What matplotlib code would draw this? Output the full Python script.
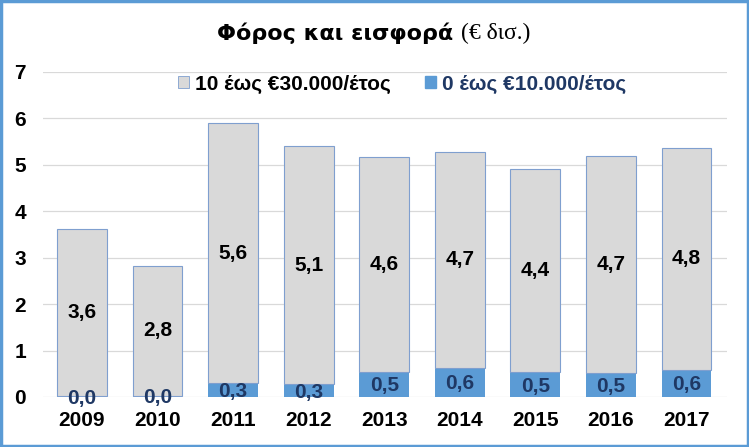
import matplotlib
matplotlib.use('Agg')
import matplotlib.pyplot as plt
from matplotlib.patches import Rectangle, Patch
import numpy as np

# data (€ bn)
years = ['2009', '2010', '2011', '2012', '2013', '2014', '2015', '2016', '2017']
low_band = [0.01, 0.03, 0.30, 0.27, 0.54, 0.62, 0.53, 0.52, 0.58]     # 0 έως €10.000/έτος
mid_band = [3.60, 2.79, 5.60, 5.13, 4.63, 4.66, 4.38, 4.67, 4.79]     # 10 έως €30.000/έτος
y_ticks = [0, 1, 2, 3, 4, 5, 6, 7]

GREY = '#D9D9D9'
GREY_EDGE = '#7F9FCF'
BLUE = '#5B9BD5'
NAVY = '#1F3864'
SANS = ['Liberation Sans', 'DejaVu Sans']


def fmt(v):
    return f'{v:.1f}'.replace('.', ',')


def main():
    fig = plt.figure(figsize=(7.49, 4.47), dpi=100)
    ax = fig.add_axes([0.057, 0.112, 0.914, 0.727])

    x = np.arange(len(years))
    ax.bar(x, low_band, width=0.66, color=BLUE, zorder=2)
    ax.bar(x, mid_band, width=0.66, bottom=low_band, color=GREY,
           edgecolor=GREY_EDGE, linewidth=0.8, zorder=2)

    # value labels
    for i in range(len(years)):
        ax.text(x[i], low_band[i] + mid_band[i] / 2, fmt(mid_band[i]),
                ha='center', va='center', fontsize=15, fontweight='bold',
                family=SANS, color='black', zorder=3)
        ax.text(x[i], low_band[i] / 2 - 0.03, fmt(low_band[i]),
                ha='center', va='center', fontsize=15, fontweight='bold',
                family=SANS, color=NAVY, zorder=3)

    ax.set_xlim(-0.52, len(years) - 0.46)
    ax.set_ylim(0, 7)
    ax.set_yticks(y_ticks)
    ax.set_xticks(x)
    ax.set_xticklabels(years)
    for lab in ax.get_xticklabels() + ax.get_yticklabels():
        lab.set_fontsize(15)
        lab.set_fontweight('bold')
        lab.set_family(SANS)
    ax.tick_params(axis='both', length=0)
    ax.tick_params(axis='y', pad=12)
    ax.tick_params(axis='x', pad=10)
    ax.grid(axis='y', color='#D9D9D9', linewidth=0.9, zorder=0)
    for s in ax.spines.values():
        s.set_visible(False)

    handles = [Patch(facecolor=GREY, edgecolor=GREY_EDGE, linewidth=0.6),
               Patch(facecolor=BLUE, edgecolor=BLUE)]
    leg = ax.legend(handles, ['10 έως €30.000/έτος', '0 έως €10.000/έτος'],
                    loc='center', bbox_to_anchor=(0.525, 0.963), ncol=2,
                    frameon=False, handlelength=0.55, handleheight=0.55,
                    handletextpad=0.3, columnspacing=1.6,
                    prop={'family': SANS, 'weight': 'bold', 'size': 15})
    leg.get_texts()[0].set_color('black')
    leg.get_texts()[1].set_color(NAVY)

    # title: bold sans part + serif part
    fig.text(0.615, 0.926, 'Φόρος και εισφορά ', ha='right', va='center',
             fontsize=16, fontweight='bold', family=['DejaVu Sans'])
    fig.text(0.615, 0.926, '(€ δισ.)', ha='left', va='center',
             fontsize=17, family=['Liberation Serif', 'DejaVu Serif'])

    # blue outer border
    fig.patches.append(Rectangle((0.002, 0.003), 0.996, 0.994,
                                 transform=fig.transFigure, fill=False,
                                 edgecolor=BLUE, linewidth=2.5))

    fig.savefig('out.png', dpi=100, facecolor='white')
    plt.close(fig)


if __name__ == '__main__':
    main()
